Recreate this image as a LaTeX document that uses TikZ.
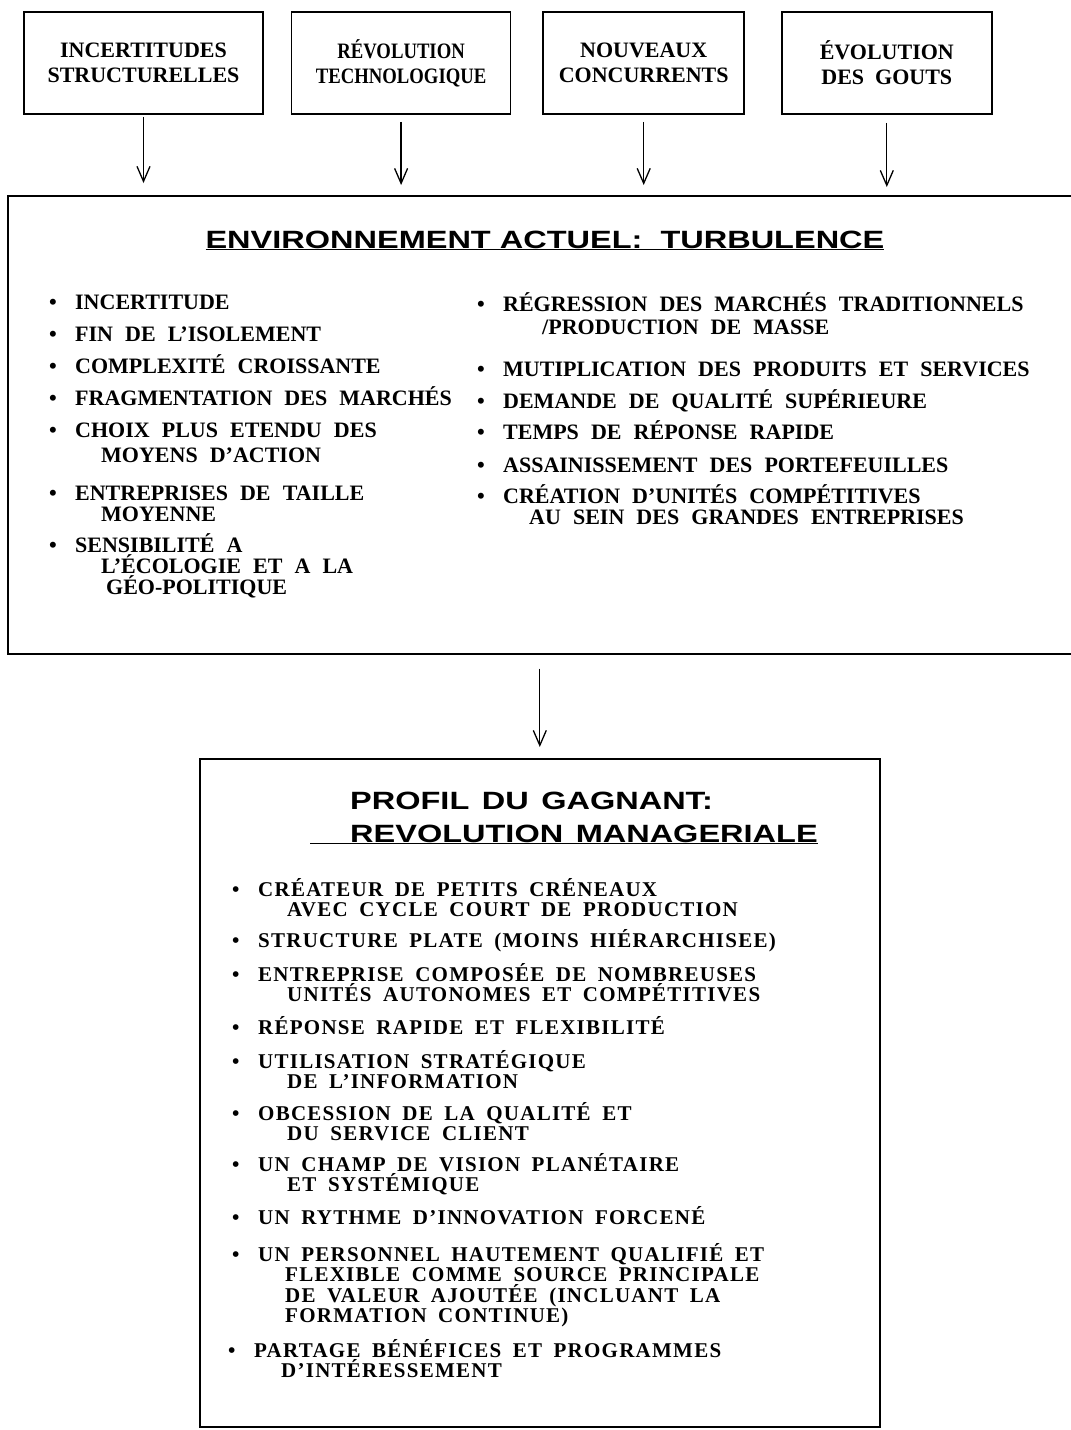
\documentclass[tikz,border=0pt]{standalone}
\usepackage{fontspec}
\setmainfont{Liberation Serif}
\newfontfamily\narrowserif[FakeStretch=0.85]{Liberation Serif}
\newfontfamily\wideserif[LetterSpace=6.0, Ligatures=TeX]{Liberation Serif}
\newfontfamily\titlesans[FakeStretch=1.3]{Liberation Sans}
\usepackage{tikz}
\usetikzlibrary{positioning, arrows.meta}

\newcommand{\boxfont}{\fontsize{22}{25}\selectfont\bfseries}
\newcommand{\narrowfont}{\narrowserif\fontsize{22}{25}\selectfont\bfseries}
\newcommand{\envfont}{\fontsize{22}{21}\selectfont\bfseries}
\newcommand{\proffont}{\wideserif\fontsize{21}{20.5}\selectfont\bfseries}
\newcommand{\titlefont}{\titlesans\fontsize{25}{33}\selectfont\bfseries}
\newcommand{\puce}{\spaceskip=0.55em\relax\makebox[26pt][l]{\textbullet}}

\tikzset{
  topbox/.style={draw, line width=1.6pt, minimum height=102pt, inner sep=0pt,
                 align=center, font=\boxfont},
  bigbox/.style={draw, line width=1.6pt, inner sep=0pt},
  titletext/.style={inner sep=0pt, font=\titlefont},
  envitem/.style={anchor=base west, inner sep=0pt, text width=600pt,
                  align=left, font=\envfont},
  profitem/.style={anchor=base west, inner sep=0pt, text width=600pt,
                   align=left, font=\proffont},
  flow/.style={-{Straight Barb[length=15pt, width=13pt, line width=1.3pt]},
               line width=1.3pt}
}

\begin{document}
\begin{tikzpicture}[x=1pt, y=-1pt]
  \useasboundingbox (0,0) rectangle (1071,1430);

  \node[topbox, minimum width=239pt] (incert) at (143.5,63)
        {INCERTITUDES\\STRUCTURELLES};
  \node[topbox, minimum width=219pt, font=\narrowfont,
        right=27pt of incert] (techno) {RÉVOLUTION\\TECHNOLOGIQUE};
  \node[topbox, minimum width=201pt,
        right=31pt of techno] (concur) {NOUVEAUX\\CONCURRENTS};
  \node[topbox, minimum width=210pt,
        right=36pt of concur] (gouts) {ÉVOLUTION\\DES\ \ GOUTS};

  \node[bigbox, minimum width=1078pt, minimum height=458pt,
        anchor=north west] (env) at (7,195) {};
  \node[titletext, anchor=base] (envtitle) at (545,248)
        {\underline{ENVIRONNEMENT ACTUEL:\ \ TURBULENCE}};

  \node[envitem] (l1) at (49,309) {\puce INCERTITUDE};
  \node[envitem] (l2) at (49,341) {\puce FIN DE L'ISOLEMENT};
  \node[envitem] (l3) at (49,373) {\puce COMPLEXITÉ CROISSANTE};
  \node[envitem] (l4) at (49,405) {\puce FRAGMENTATION DES MARCHÉS};
  \node[envitem] (l5) at (49,437) {\puce CHOIX PLUS ETENDU DES\\[4pt]
        \hspace*{52pt}MOYENS D'ACTION};
  \node[envitem] (l6) at (49,500) {\puce ENTREPRISES DE TAILLE\\
        \hspace*{52pt}MOYENNE};
  \node[envitem] (l7) at (49,552) {\puce SENSIBILITÉ A\\
        \hspace*{52pt}L'ÉCOLOGIE ET A LA\\
        \hspace*{57pt}GÉO-POLITIQUE};

  \node[envitem] (r1) at (477,311) {\puce RÉGRESSION DES MARCHÉS TRADITIONNELS\\[2pt]
        \hspace*{65pt}/PRODUCTION DE MASSE};
  \node[envitem] (r2) at (477,376) {\puce MUTIPLICATION DES PRODUITS ET SERVICES};
  \node[envitem] (r3) at (477,408) {\puce DEMANDE DE QUALITÉ SUPÉRIEURE};
  \node[envitem] (r4) at (477,439) {\puce TEMPS DE RÉPONSE RAPIDE};
  \node[envitem] (r5) at (477,472) {\puce ASSAINISSEMENT DES PORTEFEUILLES};
  \node[envitem] (r6) at (477,503) {\puce CRÉATION D'UNITÉS COMPÉTITIVES\\
        \hspace*{52pt}AU SEIN DES GRANDES ENTREPRISES};

  \node[bigbox, minimum width=680pt, minimum height=668pt,
        anchor=north west] (prof) at (199,758) {};
  \node[titletext, anchor=base west, text width=600pt, align=left] (proftitle)
        at (310,809) {\spaceskip=0.5em\relax\hspace*{40pt}PROFIL DU GAGNANT:\\
         \underline{\hspace*{40pt}REVOLUTION MANAGERIALE}};

  \node[profitem] (p1) at (232,896) {\puce CRÉATEUR DE PETITS CRÉNEAUX\\
        \hspace*{55pt}AVEC CYCLE COURT DE PRODUCTION};
  \node[profitem] (p2) at (232,947) {\puce STRUCTURE PLATE (MOINS HIÉRARCHISEE)};
  \node[profitem] (p3) at (232,981) {\puce ENTREPRISE COMPOSÉE DE NOMBREUSES\\
        \hspace*{55pt}UNITÉS AUTONOMES ET COMPÉTITIVES};
  \node[profitem] (p4) at (232,1034) {\puce RÉPONSE RAPIDE ET FLEXIBILITÉ};
  \node[profitem] (p5) at (232,1068) {\puce UTILISATION STRATÉGIQUE\\
        \hspace*{55pt}DE L'INFORMATION};
  \node[profitem] (p6) at (232,1120) {\puce OBCESSION DE LA QUALITÉ ET\\
        \hspace*{55pt}DU SERVICE CLIENT};
  \node[profitem] (p7) at (232,1171) {\puce UN CHAMP DE VISION PLANÉTAIRE\\
        \hspace*{55pt}ET SYSTÉMIQUE};
  \node[profitem] (p8) at (232,1224) {\puce UN RYTHME D'INNOVATION FORCENÉ};
  \node[profitem] (p9) at (232,1261) {\puce UN PERSONNEL HAUTEMENT QUALIFIÉ ET\\
        \hspace*{53pt}FLEXIBLE COMME SOURCE PRINCIPALE\\
        \hspace*{53pt}DE VALEUR AJOUTÉE (INCLUANT LA\\
        \hspace*{53pt}FORMATION CONTINUE)};
  \node[profitem] (p10) at (228,1357) {\puce PARTAGE BÉNÉFICES ET PROGRAMMES\\
        \hspace*{53pt}D'INTÉRESSEMENT};

  \draw[flow, shorten <=2pt, shorten >=12pt] (incert) -- (incert |- env.north);
  \draw[flow, shorten <=7pt, shorten >=10pt] (techno) -- (techno |- env.north);
  \draw[flow, shorten <=7pt, shorten >=10pt] (concur) -- (concur |- env.north);
  \draw[flow, shorten <=8pt, shorten >=8pt] (gouts) -- (gouts |- env.north);
  \draw[flow, shorten <=14pt, shorten >=11pt] (env.south -| prof.north) -- (prof);
\end{tikzpicture}
\end{document}
